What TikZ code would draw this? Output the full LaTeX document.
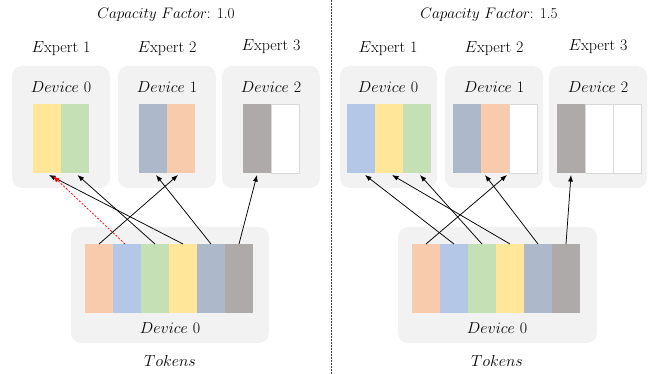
\RequirePackage{fix-cm}
\documentclass[tikz,border=0pt]{standalone}
\usetikzlibrary{arrows.meta}
\definecolor{bgc}{HTML}{F2F2F2}
\definecolor{corg}{HTML}{F8CBAD}
\definecolor{cblu}{HTML}{B4C7E7}
\definecolor{cgrn}{HTML}{C5E0B4}
\definecolor{cyel}{HTML}{FFE699}
\definecolor{csla}{HTML}{ADB9CA}
\definecolor{cgry}{HTML}{AEAAAA}
\definecolor{cbord}{HTML}{D9D9D9}
\definecolor{sepc}{HTML}{404040}
\begin{document}
\begin{tikzpicture}[x=1pt,y=-1pt,
  panel/.style={fill=bgc, rounded corners=10pt, inner sep=0pt, outer sep=0pt, anchor=north west},
  cell/.style={minimum width=28pt, minimum height=69pt, inner sep=0pt, outer sep=0pt, anchor=north west},
  ecell/.style={cell, fill=white, draw=cbord, line width=0.8pt},
  lbl/.style={font=\fontsize{16}{19}\selectfont, inner sep=0pt},
  ttl/.style={font=\fontsize{15.2}{18}\selectfont, inner sep=0pt},
  arr/.style={-{Latex[length=6.5pt,width=5pt]}, line width=0.75pt},
  drop/.style={arr, red, dash pattern=on 2pt off 1.6pt}]
\useasboundingbox (0,0) rectangle (665,374);

% separator
\coordinate (st) at (331,0);
\coordinate (sb) at (331,374);
\draw[sepc, line width=0.9pt, dash pattern=on 2pt off 1pt] (st) -- (sb);

% ===== left panel =====
\node[ttl] (lt) at (166,15) {$Capacity\ Factor$: 1.0};
\node[panel, minimum width=98pt, minimum height=122pt] (lp1) at (12,66) {};
\node[panel, minimum width=98pt, minimum height=122pt] (lp2) at (118,66) {};
\node[panel, minimum width=98pt, minimum height=122pt] (lp3) at (222,66) {};
\node[lbl] (le1) at (61,49) {$E$xpert 1};
\node[lbl] (le2) at (167,49) {$E$xpert 2};
\node[lbl] (le3) at (271,47) {$E$xpert 3};
\node[lbl] (ld1) at (61,87) {$Device$ 0};
\node[lbl] (ld2) at (167,87) {$Device$ 1};
\node[lbl] (ld3) at (271,87) {$Device$ 2};
\node[cell, fill=cyel] (lb1) at (33,104) {};
\node[cell, fill=cgrn] (lb2) at (61,104) {};
\node[cell, fill=csla] (lc1) at (139,104) {};
\node[cell, fill=corg] (lc2) at (167,104) {};
\node[cell, fill=cgry] (lg1) at (243,104) {};
\node[ecell] (lg2) at (271,104) {};

\node[panel, minimum width=198pt, minimum height=116pt] (ltp) at (71,227) {};
\node[cell, fill=corg] (lt1) at (85,244) {};
\node[cell, fill=cblu] (lt2) at (113,244) {};
\node[cell, fill=cgrn] (lt3) at (141,244) {};
\node[cell, fill=cyel] (lt4) at (169,244) {};
\node[cell, fill=csla] (lt5) at (197,244) {};
\node[cell, fill=cgry] (lt6) at (225,244) {};
\node[lbl] (ltd) at (170,328) {$Device$ 0};
\node[lbl] (ltk) at (170,361) {$Tokens$};

\draw[arr] (lt4.north) -- ([xshift=2pt,yshift=-2pt]lb1.south);
\draw[arr] (lt3.north) -- ([xshift=2.5pt,yshift=-2pt]lb2.south);
\draw[drop] ([xshift=-2pt]lt2.north) -- ([xshift=6pt,yshift=-3pt]lb1.south);
\draw[arr] (lt1.north) -- ([xshift=-3pt,yshift=-2pt]lc2.south);
\draw[arr] (lt5.north) -- ([xshift=3pt,yshift=-2pt]lc1.south);
\draw[arr] (lt6.north) -- ([yshift=-2pt]lg1.south);

% ===== right panel =====
\node[ttl] (rt) at (489,15) {$Capacity\ Factor$: 1.5};
\node[panel, minimum width=97pt, minimum height=122pt] (rp1) at (340,66) {};
\node[panel, minimum width=98pt, minimum height=122pt] (rp2) at (445,66) {};
\node[panel, minimum width=98pt, minimum height=122pt] (rp3) at (549,66) {};
\node[lbl] (re1) at (388,49) {$E$xpert 1};
\node[lbl] (re2) at (494,49) {$E$xpert 2};
\node[lbl] (re3) at (598,47) {$E$xpert 3};
\node[lbl] (rd1) at (388,87) {$Device$ 0};
\node[lbl] (rd2) at (494,87) {$Device$ 1};
\node[lbl] (rd3) at (598,87) {$Device$ 2};
\node[cell, fill=cblu] (rb1) at (347,104) {};
\node[cell, fill=cyel] (rb2) at (375,104) {};
\node[cell, fill=cgrn] (rb3) at (403,104) {};
\node[cell, fill=csla] (rc1) at (453,104) {};
\node[cell, fill=corg] (rc2) at (481,104) {};
\node[ecell] (rc3) at (509,104) {};
\node[cell, fill=cgry] (rg1) at (557,104) {};
\node[ecell] (rg2) at (585,104) {};
\node[ecell] (rg3) at (613,104) {};

\node[panel, minimum width=199pt, minimum height=116pt] (rtp) at (398,227) {};
\node[cell, fill=corg] (rt1) at (412,244) {};
\node[cell, fill=cblu] (rt2) at (440,244) {};
\node[cell, fill=cgrn] (rt3) at (468,244) {};
\node[cell, fill=cyel] (rt4) at (496,244) {};
\node[cell, fill=csla] (rt5) at (524,244) {};
\node[cell, fill=cgry] (rt6) at (552,244) {};
\node[lbl] (rtd) at (497,328) {$Device$ 0};
\node[lbl] (rtk) at (497,361) {$Tokens$};

\draw[arr] (rt1.north) -- ([xshift=12pt,yshift=-2pt]rc2.south);
\draw[arr] (rt2.north) -- ([xshift=4pt,yshift=-2pt]rb1.south);
\draw[arr] (rt3.north) -- ([xshift=3pt,yshift=-2pt]rb3.south);
\draw[arr] (rt4.north) -- ([xshift=3pt,yshift=-2pt]rb2.south);
\draw[arr] (rt5.north) -- ([xshift=18pt,yshift=-2pt]rc1.south);
\draw[arr] (rt6.north) -- ([yshift=-2pt]rg1.south);
\end{tikzpicture}
\end{document}
